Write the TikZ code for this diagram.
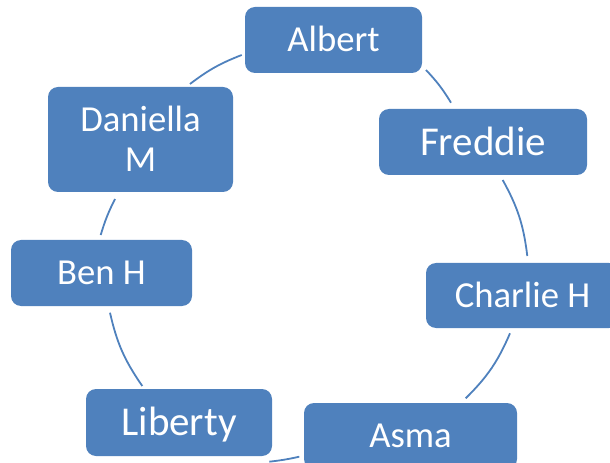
\documentclass[tikz,border=0pt]{standalone}
\usepackage{fontspec}
\setmainfont{Carlito}
\definecolor{boxblue}{HTML}{4F81BD}
\begin{document}
\begin{tikzpicture}[x=0.75pt,y=-0.75pt,
  box/.style={fill=boxblue, rounded corners=7.5pt, text=white, align=center,
    inner sep=0pt, text height=17.7pt, text depth=0pt,
    font=\fontsize{27.5}{30.5}\selectfont},
  bigbox/.style={box, text height=19.8pt, font=\fontsize{30.75}{34}\selectfont},
  link/.style={draw=boxblue, line width=1.35pt}]
\useasboundingbox (0,0) rectangle (610,463);
\clip (0,0) rectangle (610,463);
% boxes
\node[box, minimum width=132.75pt, minimum height=49.5pt] (albert) at (333.5,40) {Albert};
\node[bigbox, minimum width=156pt, minimum height=49.5pt] (freddie) at (483,142) {Freddie};
\node[box, minimum width=144.75pt, minimum height=48.75pt] (charlie) at (522.5,295.5) {Charlie H};
\node[box, minimum width=159.75pt, minimum height=49.5pt] (asma) at (410.5,436) {Asma};
\node[bigbox, minimum width=139.5pt, minimum height=50.25pt] (liberty) at (179,422.5) {Liberty};
\node[box, minimum width=135.75pt, minimum height=49.5pt] (ben) at (101.5,273) {Ben H};
\node[box, minimum width=138.75pt, minimum height=78.75pt, text height=48.3pt] (daniella) at (140.5,139.5) {Daniella\\M};
% arc end points
\coordinate (af1) at (426,70);    \coordinate (af2) at (451,102.7);
\coordinate (fc1) at (502.7,180); \coordinate (fc2) at (527.3,256);
\coordinate (ca1) at (510,333.3); \coordinate (ca2) at (465.7,398.3);
\coordinate (al1) at (299.3,456.7); \coordinate (al2) at (269.3,461.7);
\coordinate (lb1) at (142.3,386); \coordinate (lb2) at (110,312.7);
\coordinate (bd1) at (100.7,235); \coordinate (bd2) at (115,199);
\coordinate (da1) at (190,84);    \coordinate (da2) at (241.7,55);
% arcs
\draw[link] (af1) to[bend left=6] (af2);
\draw[link] (fc1) to[bend left=11] (fc2);
\draw[link] (ca1) to[bend left=11] (ca2);
\draw[link] (al1) to[bend left=3] (al2);
\draw[link] (lb1) to[bend left=11] (lb2);
\draw[link] (bd1) to[bend left=5] (bd2);
\draw[link] (da1) to[bend left=8] (da2);
\end{tikzpicture}
\end{document}
